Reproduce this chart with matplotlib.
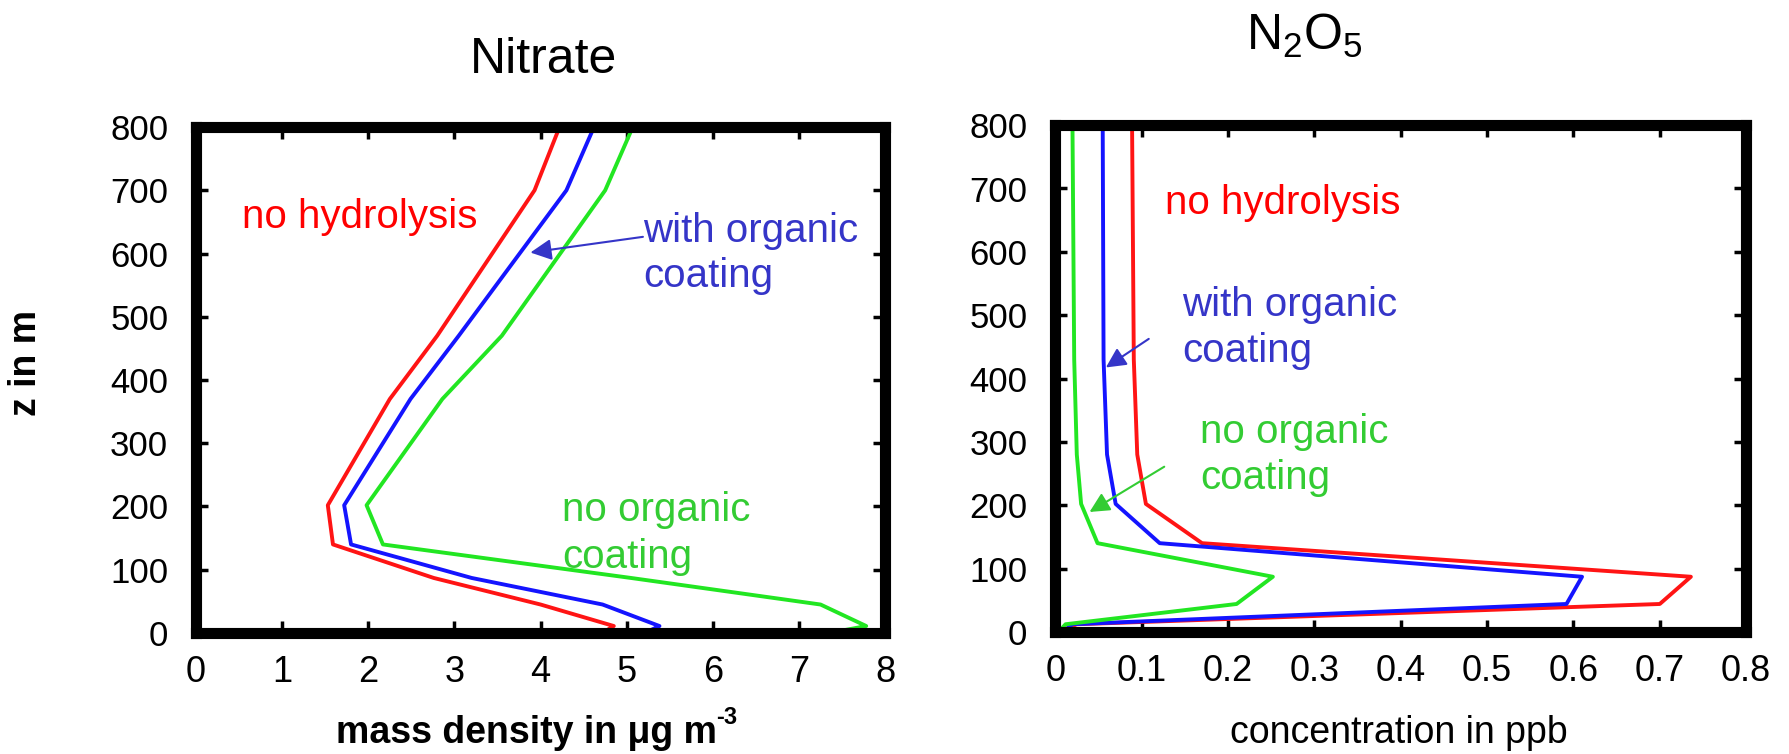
import matplotlib
matplotlib.use('Agg')
import matplotlib.pyplot as plt

plt.rcParams['font.family'] = ['Liberation Sans', 'DejaVu Sans']
plt.rcParams['mathtext.fontset'] = 'custom'
plt.rcParams['mathtext.rm'] = 'Liberation Sans'
plt.rcParams['mathtext.bf'] = 'Liberation Sans:bold'

# nitrate profiles (mass density, ug m-3) vs height
z_nitrate = [2, 11, 45, 87, 140, 202, 370, 470, 700, 800]
nitrate_no_hydrolysis = [4.74, 4.85, 4.0, 2.76, 1.59, 1.53, 2.25, 2.8, 3.93, 4.22]
nitrate_with_coating = [5.24, 5.38, 4.72, 3.2, 1.80, 1.72, 2.49, 3.05, 4.30, 4.62]
nitrate_no_coating = [7.43, 7.78, 7.25, 5.05, 2.17, 1.98, 2.86, 3.55, 4.75, 5.07]

# N2O5 profiles (ppb) vs height
z_n2o5 = [3, 12, 44, 87, 140, 202, 280, 430, 800]
n2o5_no_hydrolysis = [0.009, 0.025, 0.70, 0.736, 0.17, 0.105, 0.095, 0.091, 0.089]
n2o5_with_coating = [0.012, 0.02, 0.592, 0.61, 0.121, 0.07, 0.06, 0.056, 0.055]
n2o5_no_coating = [0.006, 0.012, 0.21, 0.252, 0.049, 0.03, 0.025, 0.022, 0.02]

z_ticks = list(range(0, 801, 100))
nitrate_ticks = list(range(0, 9))
n2o5_ticks = [0, 0.1, 0.2, 0.3, 0.4, 0.5, 0.6, 0.7, 0.8]
n2o5_ticklabels = ['0', '0.1', '0.2', '0.3', '0.4', '0.5', '0.6', '0.7', '0.8']

RED, BLUE, GREEN = '#ff1414', '#1414ff', '#22e622'
RED_T, BLUE_T, GREEN_T = '#ff0000', '#3535c8', '#33cc33'
LW = 2.8


def style_axes(ax):
    for s in ax.spines.values():
        s.set_linewidth(8)
        s.set_color('black')
    ax.tick_params(direction='in', length=8.5, width=2.5, top=True, right=True)
    ax.tick_params(axis='x', labelsize=26, pad=16)
    ax.tick_params(axis='y', labelsize=25, pad=20)
    ax.set_ylim(0, 800)
    ax.set_yticks(z_ticks)


fig = plt.figure(figsize=(17.9, 7.54), dpi=100)

#==============
# Nitrate
ax1 = fig.add_axes([0.1095, 0.1605, 0.385, 0.671])
ax1.plot(nitrate_no_hydrolysis, z_nitrate, color=RED, lw=LW)
ax1.plot(nitrate_with_coating, z_nitrate, color=BLUE, lw=LW)
ax1.plot(nitrate_no_coating, z_nitrate, color=GREEN, lw=LW)
ax1.set_xlim(0, 8)
ax1.set_xticks(nitrate_ticks)
style_axes(ax1)

ax1.text(0.53, 658, 'no hydrolysis', color=RED_T, fontsize=29, va='center')
ax1.text(5.19, 600, 'with organic\ncoating', color=BLUE_T, fontsize=29,
         va='center', linespacing=1.25)
ax1.annotate('', xy=(3.85, 601), xytext=(5.22, 627),
             arrowprops=dict(arrowstyle='-|>', color=BLUE_T, lw=1.5, mutation_scale=32))
ax1.text(4.25, 158, 'no organic\ncoating', color=GREEN_T, fontsize=29,
         va='center', linespacing=1.3)

#==============
# N2O5
ax2 = fig.add_axes([0.5895, 0.162, 0.386, 0.672])
ax2.plot(n2o5_no_hydrolysis, z_n2o5, color=RED, lw=LW)
ax2.plot(n2o5_with_coating, z_n2o5, color=BLUE, lw=LW)
ax2.plot(n2o5_no_coating, z_n2o5, color=GREEN, lw=LW)
ax2.set_xlim(0, 0.8)
ax2.set_xticks(n2o5_ticks)
ax2.set_xticklabels(n2o5_ticklabels)
style_axes(ax2)

ax2.text(0.127, 677, 'no hydrolysis', color=RED_T, fontsize=29, va='center')
ax2.text(0.147, 480, 'with organic\ncoating', color=BLUE_T, fontsize=29,
         va='center', linespacing=1.25)
ax2.annotate('', xy=(0.056, 415), xytext=(0.111, 465),
             arrowprops=dict(arrowstyle='-|>', color=BLUE_T, lw=1.5, mutation_scale=30))
ax2.text(0.168, 279, 'no organic\ncoating', color=GREEN_T, fontsize=29,
         va='center', linespacing=1.25)
ax2.annotate('', xy=(0.037, 187), xytext=(0.129, 263),
             arrowprops=dict(arrowstyle='-|>', color=GREEN_T, lw=1.5, mutation_scale=30))

# titles and axis labels
fig.text(544 / 1790, 1 - 60 / 754, 'Nitrate', fontsize=36, ha='center', va='center')
fig.text(1304 / 1790, 1 - 36 / 754, 'N$_2$O$_5$', fontsize=36, ha='center', va='center')
fig.text(26 / 1790, 1 - 363 / 754, 'z in m', fontsize=27, fontweight='bold',
         rotation=90, ha='center', va='center')
xlab = fig.text(526 / 1790, 1 - 733 / 754, 'mass density in μg m', fontsize=27,
                fontweight='bold', ha='center', va='center')
# superscript exponent hung on the right end of the label
ax1.annotate('-3', xy=(1.0, 0.62), xycoords=xlab, fontsize=17, fontweight='bold',
             ha='left', va='bottom', annotation_clip=False)
fig.text(1399 / 1790, 1 - 733 / 754, 'concentration in ppb', fontsize=27,
         ha='center', va='center')

fig.savefig('out.png', dpi=100)
